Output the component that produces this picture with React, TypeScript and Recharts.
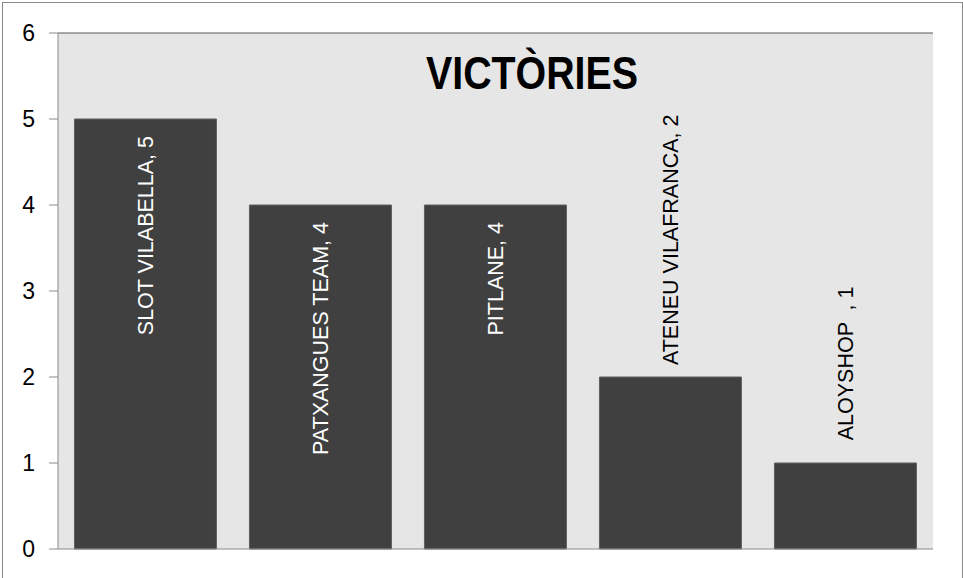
import React from 'react';
import { BarChart, Bar, XAxis, YAxis, CartesianGrid, ReferenceLine, LabelList } from 'recharts';

const categories = ['SLOT VILABELLA', 'PATXANGUES TEAM', 'PITLANE', 'ATENEU VILAFRANCA', '  ALOYSHOP  '];
const victories = [5, 4, 4, 2, 1];
const yTicks = [0, 1, 2, 3, 4, 5, 6];
const title = 'VICTÒRIES';

const data = categories.map((name, i) => ({ name, value: victories[i] }));

const LABEL_FONT = 21.5;
const LABEL_FAMILY = "'Liberation Sans', Arial, sans-serif";

let ctx: CanvasRenderingContext2D | null = null;
function measure(text: string): number {
  if (!ctx) {
    const c = document.createElement('canvas');
    ctx = c.getContext('2d');
  }
  if (!ctx) return text.length * LABEL_FONT * 0.55;
  ctx.font = `${LABEL_FONT}px 'Liberation Sans'`;
  return ctx.measureText(text).width;
}

const renderLabel = (props: any) => {
  const { x, y, width, height, value, index } = props;
  const text = `${categories[index]}, ${value}`;
  const cx = Number(x) + Number(width) / 2;
  const tx = cx + LABEL_FONT * 0.358;
  const len = measure(text);
  const inside = len + 27 < Number(height);
  const ty = inside ? Number(y) + 17 : Number(y) - 12;
  return (
    <text
      x={tx}
      y={ty}
      transform={`rotate(-90 ${tx} ${ty})`}
      textAnchor={inside ? 'end' : 'start'}
      fill={inside ? '#ffffff' : '#000000'}
      fontSize={LABEL_FONT}
      fontFamily={LABEL_FAMILY}
      style={{ whiteSpace: 'pre' }}
    >
      {text}
    </text>
  );
};

export default function App() {
  return (
    <div style={{ position: 'absolute', left: 0, top: 0, width: 963, height: 578, background: '#fff', overflow: 'hidden' }}>
      <div style={{ position: 'absolute', left: 2, top: 2, width: 959, height: 640, border: '1px solid #898989' }} />
      <div style={{ position: 'absolute', left: 0, top: 0 }}>
        <BarChart width={963} height={578} data={data} margin={{ top: 33, right: 30, bottom: 29, left: 0 }} barCategoryGap="9.4%">
          <CartesianGrid fill="#e6e6e6" horizontal={false} vertical={false} />
          <XAxis dataKey="name" hide />
          <YAxis
            yAxisId="left"
            width={58}
            domain={[0, 6]}
            ticks={yTicks}
            interval={0}
            tickSize={9}
            tickMargin={14}
            axisLine={{ stroke: '#8a8a8a' }}
            tickLine={{ stroke: '#8a8a8a' }}
            tick={{ fill: '#000', fontSize: 23, fontFamily: LABEL_FAMILY }}
          />
          <YAxis
            yAxisId="right"
            orientation="right"
            width={0}
            domain={[0, 6]}
            tick={false}
            tickLine={false}
            axisLine={{ stroke: '#595959' }}
          />
          <ReferenceLine yAxisId="left" y={0} stroke="#8a8a8a" />
          <ReferenceLine yAxisId="left" y={6} stroke="#595959" />
          <Bar yAxisId="left" dataKey="value" fill="#404040" stroke="#606060" strokeWidth={1} isAnimationActive={false}>
            <LabelList dataKey="value" content={renderLabel} />
          </Bar>
        </BarChart>
      </div>
      <svg width={963} height={578} style={{ position: 'absolute', left: 0, top: 0, pointerEvents: 'none' }}>
        <text
          x={532}
          y={89}
          textAnchor="middle"
          fontSize={46}
          fontWeight="bold"
          fontFamily="'Liberation Sans', Arial, sans-serif"
          textLength={212}
          lengthAdjust="spacingAndGlyphs"
          fill="#000"
        >
          {title}
        </text>
      </svg>
    </div>
  );
}
